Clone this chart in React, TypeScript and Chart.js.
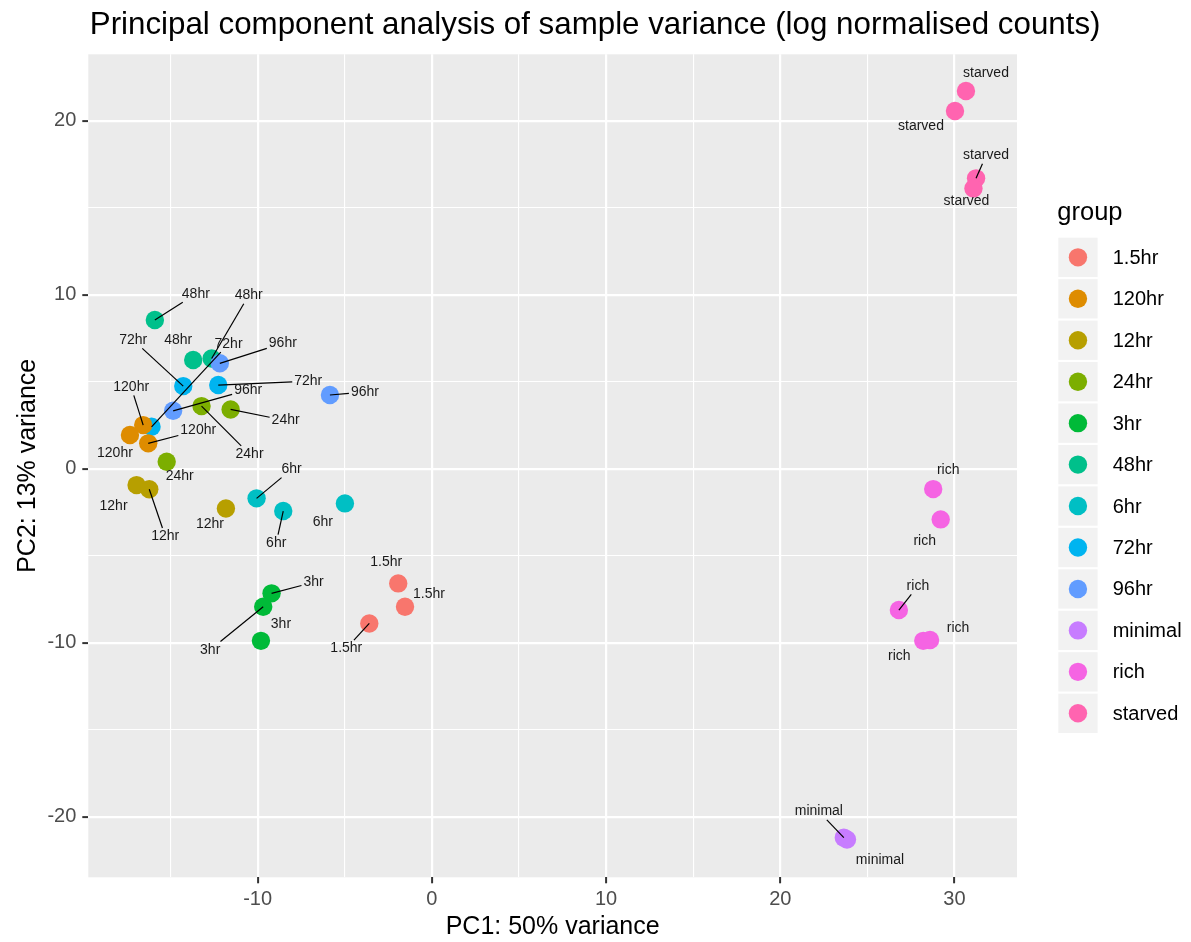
import React, { useEffect, useRef } from 'react';
import { Chart, registerables } from 'chart.js';

Chart.register(...registerables);

const FONT = '"Liberation Sans", Arial, Helvetica, sans-serif';

// Groups in legend order, with the ggplot hue palette
const groups = ['1.5hr', '120hr', '12hr', '24hr', '3hr', '48hr', '6hr', '72hr', '96hr', 'minimal', 'rich', 'starved'];
const groupColors = ['#F8766D', '#DE8C00', '#B79F00', '#7CAE00', '#00BA38', '#00C08B', '#00BFC4', '#00B4F0', '#619CFF', '#C77CFF', '#F564E3', '#FF64B0'];
// Stacking: later time points sit on top of earlier ones
const drawRank = [0, 8, 3, 4, 1, 5, 2, 6, 7, 9, 10, 11];

// One entry per sample
const sampleGroup = [
  '1.5hr', '1.5hr', '1.5hr',
  '120hr', '120hr', '120hr',
  '12hr', '12hr', '12hr',
  '24hr', '24hr', '24hr',
  '3hr', '3hr', '3hr',
  '48hr', '48hr', '48hr',
  '6hr', '6hr', '6hr',
  '72hr', '72hr', '72hr',
  '96hr', '96hr', '96hr',
  'minimal', 'minimal',
  'rich', 'rich', 'rich', 'rich', 'rich',
  'starved', 'starved', 'starved', 'starved',
];
const pc1 = [
  -1.93, -1.54, -3.59,
  -16.57, -17.33, -16.28,
  -16.95, -16.22, -11.82,
  -13.22, -11.55, -15.22,
  -9.2, -9.68, -9.81,
  -15.9, -13.7, -12.64,
  -10.06, -8.53, -4.99,
  -14.27, -12.26, -16.09,
  -12.17, -5.85, -14.85,
  23.65, 23.83,
  28.78, 29.21, 26.81, 28.21, 28.6,
  30.66, 30.03, 31.24, 31.09,
];
const pc2 = [
  -6.59, -7.93, -8.89,
  2.51, 1.94, 1.46,
  -0.94, -1.18, -2.28,
  3.6, 3.41, 0.4,
  -7.16, -7.93, -9.89,
  8.55, 6.25, 6.34,
  -1.7, -2.43, -1.99,
  4.75, 4.81, 2.41,
  6.06, 4.24, 3.33,
  -21.2, -21.31,
  -1.17, -2.91, -8.12, -9.89, -9.84,
  21.71, 20.56, 16.69, 16.11,
];

// Repelled label placement: pixel offset from the point, and whether a leader segment is drawn
const labelOffsets: [number, number, boolean][] = [
  [-12, -21, false], [24, -13, false], [-23, 25, true],
  [-12, -38, true], [-15, 18, false], [50, -13, true],
  [-23, 21, false], [16, 47, true], [-16, 16, false],
  [48, 48, true], [55, 11, true], [13, 14, false],
  [42, -11, true], [-53, 43, true], [20, -17, false],
  [41, -26, true], [-15, -20, false], [37, -63, true],
  [35, -29, true], [-7, 32, true], [-22, 19, false],
  [-50, -46, true], [90, -4, true], [77, -83, true],
  [63, -20, true], [35, -3, true], [75, -21, true],
  [-25, -26, true], [33, 21, false],
  [15, -19, false], [-16, 22, false], [19, -24, true], [-24, 15, false], [28, -12, false],
  [20, -18, false], [-34, 15, false], [10, -23, true], [-7, 13, false],
];

// Axes
const X_MIN = -19.72;
const X_MAX = 33.59;
const Y_MIN = -23.48;
const Y_MAX = 23.82;
const xMajor = [-10, 0, 10, 20, 30];
const xTickLabels = ['-10', '0', '10', '20', '30'];
const xMinor = [-15, -5, 5, 15, 25];
const yMajor = [-20, -10, 0, 10, 20];
const yTickLabels = ['-20', '-10', '0', '10', '20'];
const yMinor = [-15, -5, 5, 15];

const TITLE = 'Principal component analysis of sample variance (log normalised counts)';
const X_TITLE = 'PC1: 50% variance';
const Y_TITLE = 'PC2: 13% variance';
const LEGEND_TITLE = 'group';

const W = 1191;
const H = 942;
const LABEL_SIZE = 14;

const panelPlugin = {
  id: 'panelBackground',
  beforeDraw(chart: any) {
    const { ctx, chartArea } = chart;
    ctx.save();
    ctx.fillStyle = '#FFFFFF';
    ctx.fillRect(0, 0, chart.width, chart.height);
    ctx.fillStyle = '#EBEBEB';
    ctx.fillRect(chartArea.left, chartArea.top, chartArea.right - chartArea.left, chartArea.bottom - chartArea.top);
    ctx.restore();
  },
};

const labelPlugin = {
  id: 'sampleLabels',
  afterDatasetsDraw(chart: any) {
    const { ctx } = chart;
    const xs = chart.scales.x;
    const ys = chart.scales.y;
    ctx.save();
    ctx.font = `${LABEL_SIZE}px ${FONT}`;
    ctx.textAlign = 'center';
    ctx.textBaseline = 'middle';
    sampleGroup.forEach((g, i) => {
      const px = xs.getPixelForValue(pc1[i]);
      const py = ys.getPixelForValue(pc2[i]);
      const [dx, dy, seg] = labelOffsets[i];
      const lx = px + dx;
      const ly = py + dy;
      if (seg) {
        const hw = ctx.measureText(g).width / 2 + 2;
        const hh = LABEL_SIZE * 0.45 + 2;
        const vx = px - lx;
        const vy = py - ly;
        const t = Math.min(hw / Math.max(Math.abs(vx), 1e-6), hh / Math.max(Math.abs(vy), 1e-6));
        ctx.strokeStyle = '#000000';
        ctx.lineWidth = 1.2;
        ctx.beginPath();
        ctx.moveTo(px, py);
        ctx.lineTo(lx + vx * t, ly + vy * t);
        ctx.stroke();
      }
      ctx.fillStyle = '#1A1A1A';
      ctx.fillText(g, lx, ly);
    });
    ctx.restore();
  },
};

const chromePlugin = {
  id: 'titleAndLegend',
  afterDraw(chart: any) {
    const { ctx, chartArea } = chart;
    ctx.save();
    // plot title
    ctx.fillStyle = '#000000';
    ctx.font = `31.3px ${FONT}`;
    ctx.textAlign = 'left';
    ctx.textBaseline = 'alphabetic';
    ctx.fillText(TITLE, chartArea.left + 1.5, 33.5);

    // legend
    const lx = 1058.3;
    ctx.font = `25.5px ${FONT}`;
    ctx.fillText(LEGEND_TITLE, lx - 1, 219.5);
    const top0 = 237.7;
    const pitch = 41.45;
    const key = 39.3;
    groups.forEach((g, i) => {
      const top = top0 + i * pitch;
      ctx.fillStyle = '#F2F2F2';
      ctx.fillRect(lx, top, key, key);
      ctx.fillStyle = groupColors[i];
      ctx.beginPath();
      ctx.arc(lx + key / 2, top + key / 2, 9.2, 0, Math.PI * 2);
      ctx.fill();
      ctx.fillStyle = '#000000';
      ctx.font = `20px ${FONT}`;
      ctx.textBaseline = 'middle';
      ctx.fillText(g, 1112.7, top + key / 2 + 1);
    });
    ctx.restore();
  },
};

function isIn(list: number[], v: number) {
  return list.some((m) => Math.abs(m - v) < 1e-9);
}

export default function App() {
  const canvasRef = useRef<HTMLCanvasElement | null>(null);

  useEffect(() => {
    const canvas = canvasRef.current;
    if (!canvas) return;

    const datasets = groups.map((g, gi) => {
      const idx = sampleGroup.map((s, i) => (s === g ? i : -1)).filter((i) => i >= 0);
      return {
        label: g,
        data: idx.map((i) => ({ x: pc1[i], y: pc2[i] })),
        backgroundColor: groupColors[gi],
        borderWidth: 0,
        pointRadius: 9.2,
        pointHoverRadius: 9.2,
        order: groups.length - 1 - drawRank[gi],
      };
    });

    const chart = new Chart(canvas, {
      type: 'scatter',
      data: { datasets },
      options: {
        responsive: false,
        animation: false,
        devicePixelRatio: 1,
        events: [],
        layout: { padding: { top: 54.3, right: W - 1017, bottom: 0, left: 0 } },
        plugins: {
          legend: { display: false },
          tooltip: { enabled: false },
          title: { display: false },
        },
        scales: {
          x: {
            type: 'linear',
            min: X_MIN,
            max: X_MAX,
            afterBuildTicks: (s: any) => {
              s.ticks = [...xMinor, ...xMajor].sort((a, b) => a - b).map((v) => ({ value: v }));
            },
            afterFit: (s: any) => {
              s.height = H - 877.3;
            },
            border: { display: false },
            grid: {
              color: '#FFFFFF',
              lineWidth: (c: any) => (c.tick && isIn(xMajor, c.tick.value) ? 2.2 : 1.1),
              tickColor: (c: any) => (c.tick && isIn(xMajor, c.tick.value) ? '#333333' : 'rgba(0,0,0,0)'),
              tickLength: 6,
              tickWidth: 2,
            },
            ticks: {
              autoSkip: false,
              maxRotation: 0,
              padding: 4,
              color: '#4D4D4D',
              font: { size: 20, family: FONT },
              callback: (v: any) => {
                const k = xMajor.findIndex((m) => Math.abs(m - Number(v)) < 1e-9);
                return k >= 0 ? xTickLabels[k] : '';
              },
            },
            title: {
              display: true,
              text: X_TITLE,
              color: '#000000',
              font: { size: 25, family: FONT, lineHeight: 1.0 },
              padding: { top: 0, bottom: 2 },
            },
          },
          y: {
            type: 'linear',
            min: Y_MIN,
            max: Y_MAX,
            afterBuildTicks: (s: any) => {
              s.ticks = [...yMinor, ...yMajor].sort((a, b) => a - b).map((v) => ({ value: v }));
            },
            afterFit: (s: any) => {
              s.width = 88.3;
            },
            border: { display: false },
            grid: {
              color: '#FFFFFF',
              lineWidth: (c: any) => (c.tick && isIn(yMajor, c.tick.value) ? 2.2 : 1.1),
              tickColor: (c: any) => (c.tick && isIn(yMajor, c.tick.value) ? '#333333' : 'rgba(0,0,0,0)'),
              tickLength: 6,
              tickWidth: 2,
            },
            ticks: {
              autoSkip: false,
              padding: 6,
              color: '#4D4D4D',
              font: { size: 20, family: FONT },
              callback: (v: any) => {
                const k = yMajor.findIndex((m) => Math.abs(m - Number(v)) < 1e-9);
                return k >= 0 ? yTickLabels[k] : '';
              },
            },
            title: {
              display: true,
              text: Y_TITLE,
              color: '#000000',
              font: { size: 25, family: FONT, lineHeight: 1.12 },
              padding: { top: 14.5, bottom: 0 },
            },
          },
        },
      },
      plugins: [panelPlugin, labelPlugin, chromePlugin],
    } as any);

    return () => chart.destroy();
  }, []);

  return (
    <div style={{ position: 'absolute', left: 0, top: 0, width: W, height: H, background: '#FFFFFF' }}>
      <canvas ref={canvasRef} width={W} height={H} style={{ display: 'block', width: W, height: H }} />
    </div>
  );
}
